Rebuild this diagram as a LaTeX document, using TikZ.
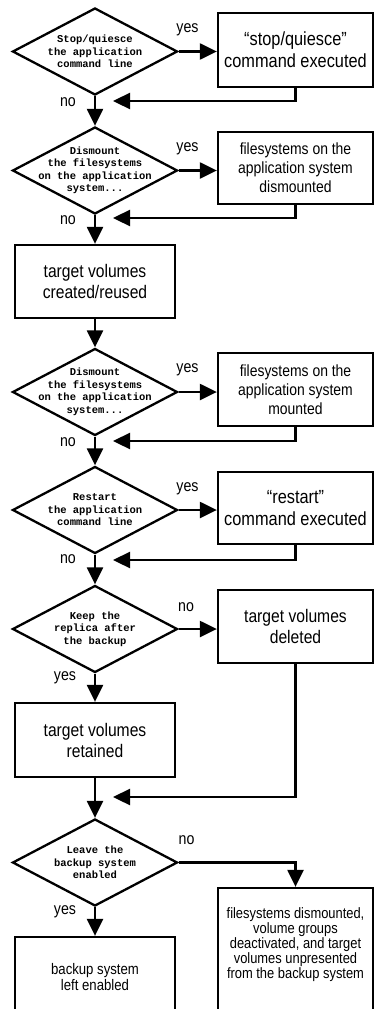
\documentclass[tikz,border=0pt]{standalone}
\usepackage{fontspec}
\setmainfont{Liberation Sans}[FakeStretch=0.86]
\newfontfamily\monof{Liberation Mono}
\usetikzlibrary{shapes.geometric,arrows.meta}
\begin{document}
\begin{tikzpicture}[x=1pt,y=-1pt,
  lw/.style={line width=2.3pt},
  arr/.style={lw,-{Triangle[length=17pt,width=16pt]}},
  dia/.style={diamond,draw,lw,minimum width=165pt,minimum height=87pt,inner sep=0pt},
  dtext/.style={font=\monof\bfseries\fontsize{10.5}{12.5}\selectfont,align=center,inner sep=0pt},
  rbox/.style={draw,lw,align=center,inner sep=0pt,minimum width=155pt,minimum height=73pt},
  lbox/.style={draw,lw,align=center,inner sep=0pt,minimum width=160pt,minimum height=73pt},
  lab/.style={font=\fontsize{16.5}{18}\selectfont,inner sep=0pt},
  fA/.style={font=\fontsize{19}{22}\selectfont},
  fB/.style={font=\fontsize{16.2}{19}\selectfont},
  fC/.style={font=\fontsize{18.2}{21}\selectfont},
  fD/.style={font=\fontsize{15}{15}\selectfont},
  fE/.style={font=\fontsize{15.3}{16.5}\selectfont}
]
\clip (0,0) rectangle (376,1009);
% row 1
\node[dia] (d1) at (95,51.5) {};
\node[dtext] (d1t) at (d1) {Stop/quiesce\\the application\\command line};
\node[rbox,fA,minimum height=74pt] (b1) at (295.5,50) {“stop/quiesce”\\command executed};
\coordinate (f1) at (113,101);
\node[lab] (yes1) at (187.5,30) {yes};
\node[lab] (no1) at (68,102) {no};
% row 2
\node[dia] (d2) at (95,170.5) {};
\node[dtext] (d2t) at (d2) {Dismount\\the filesystems\\on the application\\system...};
\node[rbox,fB,minimum height=72pt] (b2) at (295.5,168) {filesystems on the\\application system\\dismounted};
\coordinate (f2) at (113,218);
\node[lab] (yes2) at (187.5,149) {yes};
\node[lab] (no2) at (68,220) {no};
% row 3
\node[lbox,fC] (b3) at (95,281.5) {target volumes\\created/reused};
% row 4
\node[dia] (d3) at (95,392) {};
\node[dtext] (d3t) at (d3) {Dismount\\the filesystems\\on the application\\system...};
\node[rbox,fB] (b4) at (295.5,389.5) {filesystems on the\\application system\\mounted};
\coordinate (f4) at (113,441);
\node[lab] (yes3) at (187.5,370) {yes};
\node[lab] (no3) at (68,442) {no};
% row 5
\node[dia] (d4) at (95,510) {};
\node[dtext] (d4t) at (d4) {Restart\\the application\\command line};
\node[rbox,fA,minimum height=72pt] (b5) at (295.5,508) {“restart”\\command executed};
\coordinate (f5) at (113,560);
\node[lab] (yes4) at (187.5,489) {yes};
\node[lab] (no4) at (68,559) {no};
% row 6
\node[dia] (d5) at (95,629) {};
\node[dtext] (d5t) at (d5) {Keep the\\replica after\\the backup};
\node[rbox,fC] (b6) at (295.5,626.5) {target volumes\\deleted};
\node[lab] (no5) at (186,607) {no};
\node[lab] (yes5) at (65,678) {yes};
\node[lbox,fC,minimum height=74pt] (b7) at (95,740) {target volumes\\retained};
\coordinate (f6) at (113,797);
% row 7
\node[dia] (d6) at (95,862.5) {};
\node[dtext] (d6t) at (d6) {Leave the\\backup system\\enabled};
\node[lab] (no6) at (186.5,840) {no};
\node[lab] (yes6) at (65,912) {yes};
\node[rbox,minimum height=130pt] (b8) at (295.5,953) {};
\node[fD,align=center,inner sep=0pt] (b8t) at (295.5,945) {filesystems dismounted,\\volume groups\\deactivated, and target\\volumes unpresented\\from the backup system};
\node[lbox,fE,minimum height=80pt] (b9) at (95,977) {backup system\\left enabled};
% connectors
\draw[arr] (d1.east) -- (d1.east -| b1.west);
\draw[arr] (b1.south) |- (f1);
\draw[arr] (d1.south) -- (d2.north);
\draw[arr] (d2.east) -- (d2.east -| b2.west);
\draw[arr] (b2.south) |- (f2);
\draw[arr] (d2.south) -- (b3.north);
\draw[arr] (b3.south) -- (d3.north);
\draw[arr] (d3.east) -- (d3.east -| b4.west);
\draw[arr] (b4.south) |- (f4);
\draw[arr] (d3.south) -- (d4.north);
\draw[arr] (d4.east) -- (d4.east -| b5.west);
\draw[arr] (b5.south) |- (f5);
\draw[arr] (d4.south) -- (d5.north);
\draw[arr] (d5.east) -- (d5.east -| b6.west);
\draw[arr] (d5.south) -- (b7.north);
\draw[arr] (b6.south) |- (f6);
\draw[arr] (b7.south) -- (d6.north);
\draw[arr] (d6.east) -| (b8.north);
\draw[arr] (d6.south) -- (b9.north);
\end{tikzpicture}
\end{document}
